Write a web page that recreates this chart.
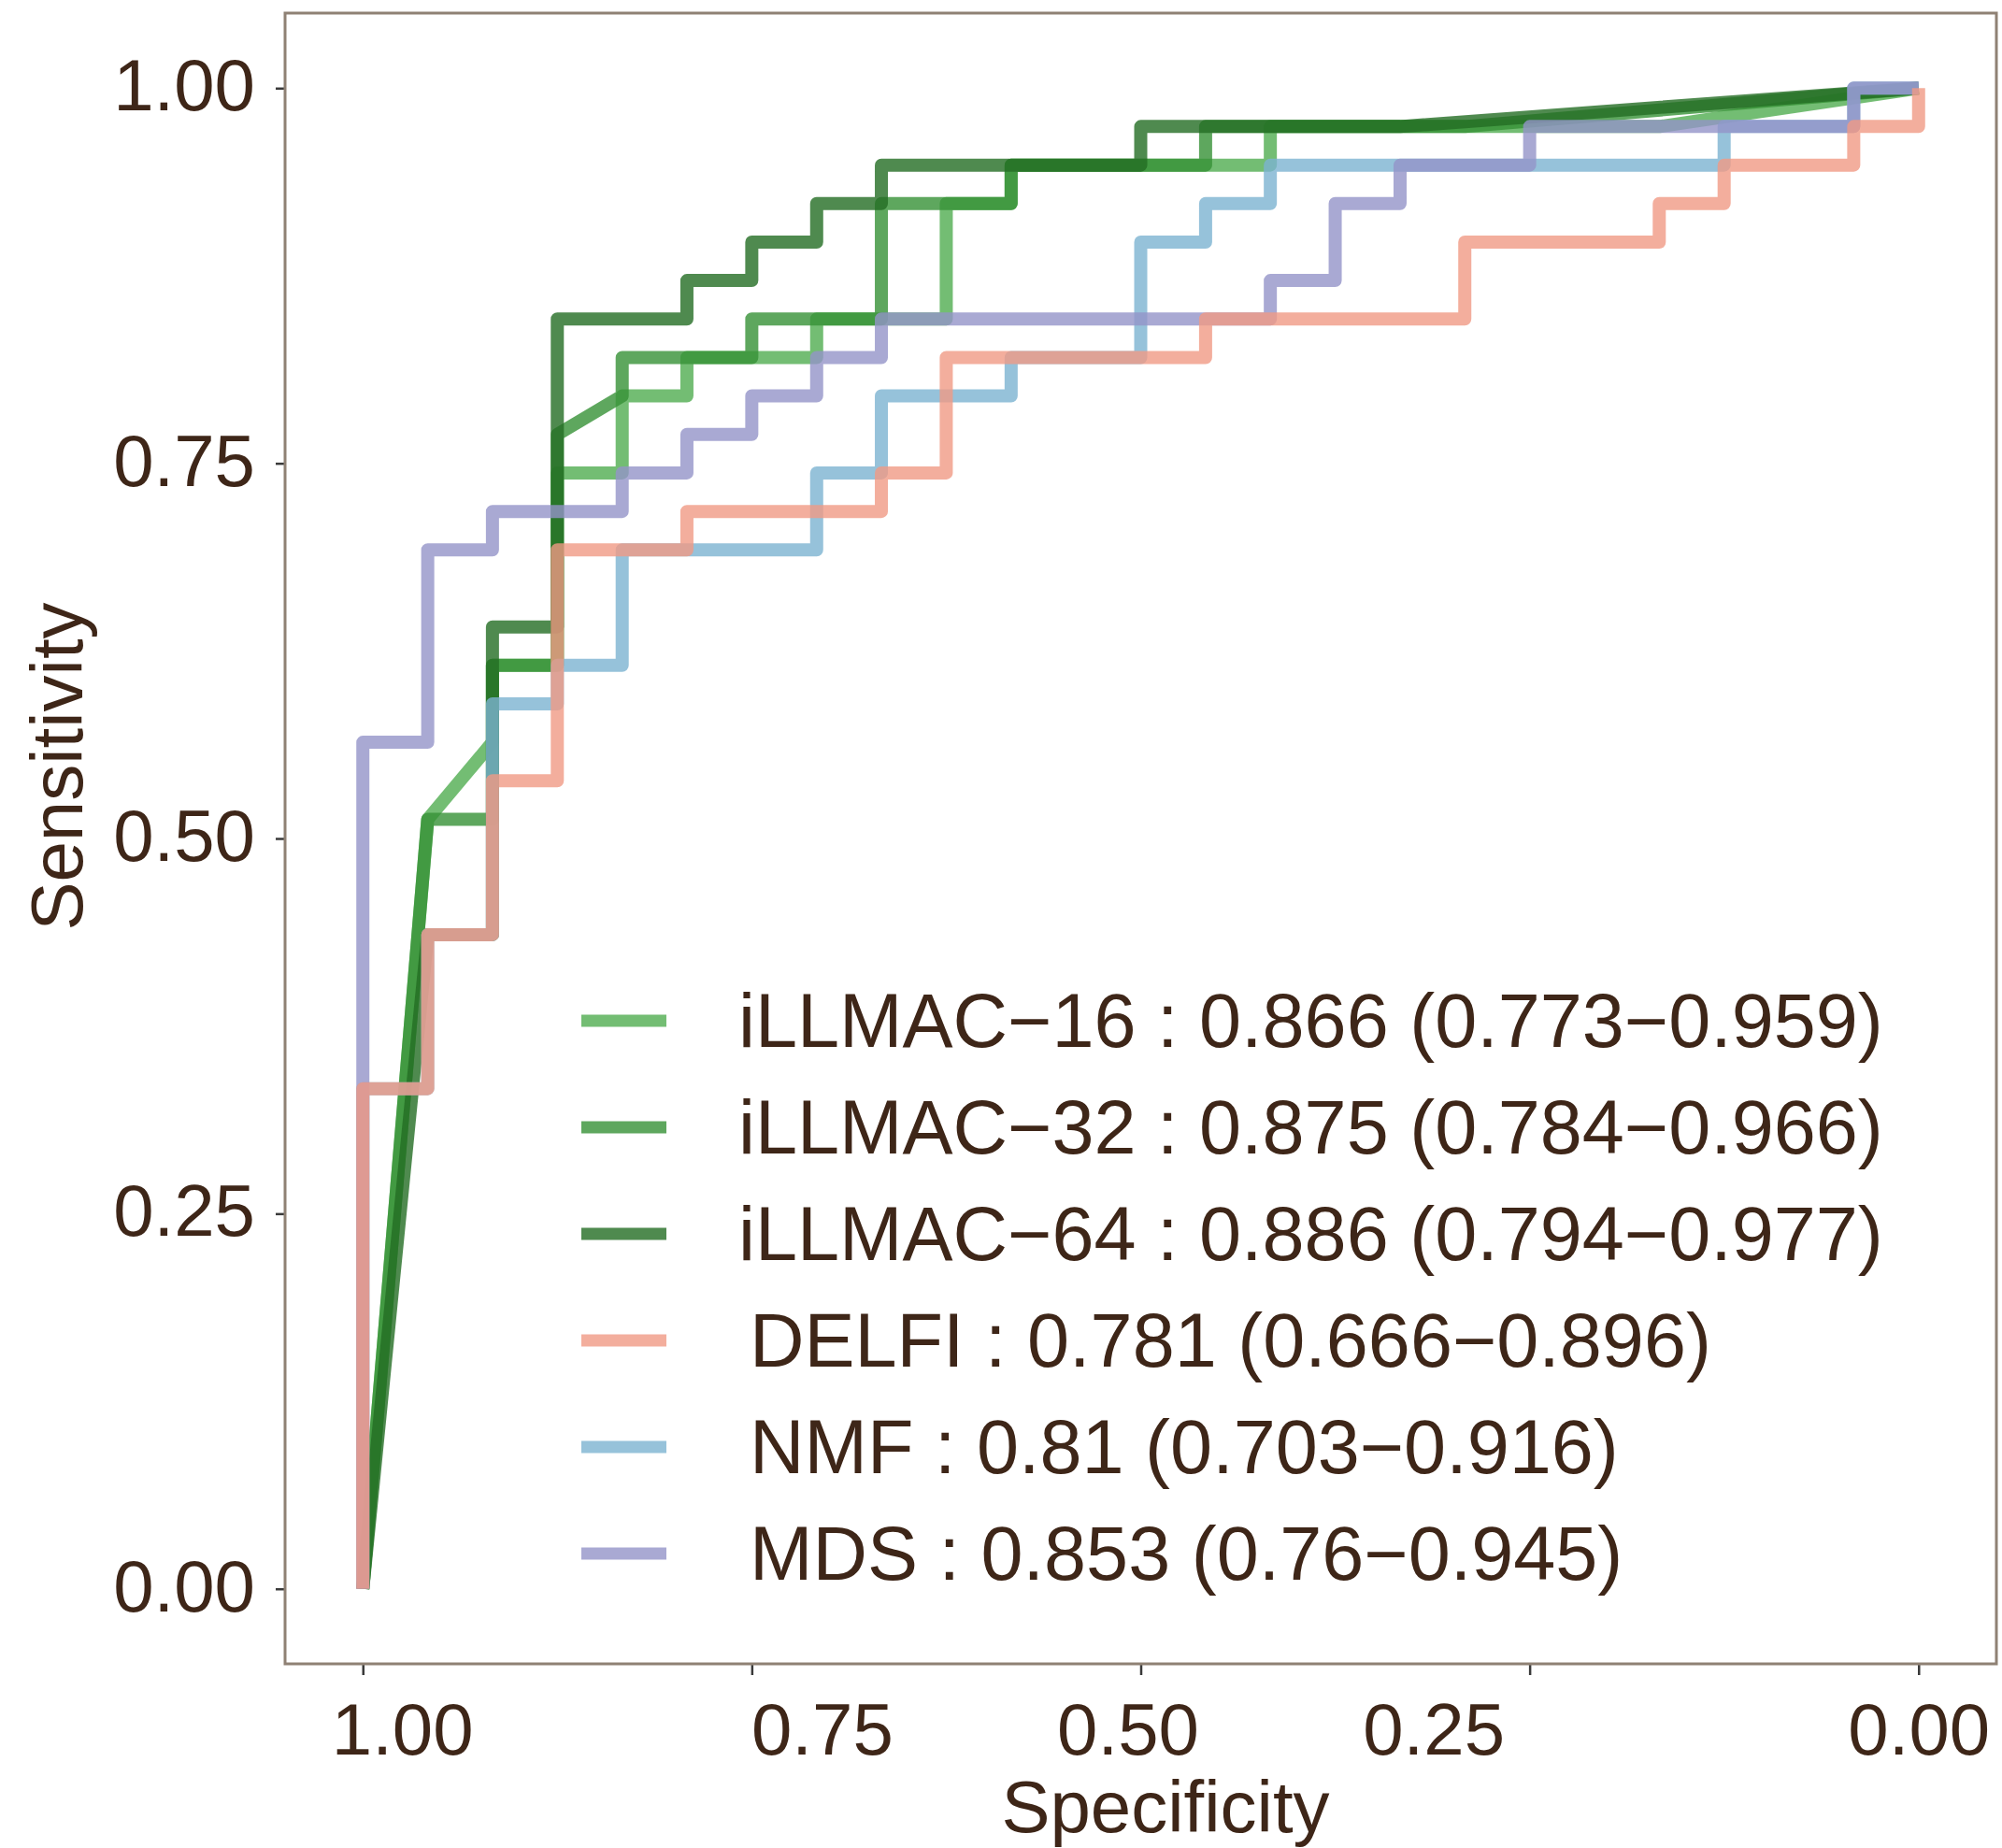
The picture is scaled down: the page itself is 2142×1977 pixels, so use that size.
<!DOCTYPE html>
<html>
<head>
<meta charset="utf-8">
<script src="https://cdn.jsdelivr.net/npm/d3@7"></script>
<style>
  html, body { margin: 0; padding: 0; background: #fff; }
  svg { display: block; font-family: 'Liberation Sans', Arial, Helvetica, sans-serif; }
</style>
</head>
<body>
<div class="container"></div>
<script>
// ROC curves as [specificity, sensitivity] vertices
const rocIL16 = [
  [1, 0], [0.9583, 0.5128], [0.9167, 0.5641], [0.9167, 0.6154], [0.875, 0.6154],
  [0.875, 0.7436], [0.8333, 0.7436], [0.8333, 0.7949], [0.7917, 0.7949], [0.7917, 0.8205],
  [0.7083, 0.8205], [0.7083, 0.8462], [0.625, 0.8462], [0.625, 0.9231], [0.5833, 0.9231],
  [0.5833, 0.9487], [0.4167, 0.9487], [0.4167, 0.9744], [0.1667, 0.9744], [0, 1]
]
const rocIL32 = [
  [1, 0], [0.9583, 0.5128], [0.9167, 0.5128], [0.9167, 0.6154], [0.875, 0.6154],
  [0.875, 0.7692], [0.8333, 0.7949], [0.8333, 0.8205], [0.75, 0.8205], [0.75, 0.8462],
  [0.6667, 0.8462], [0.6667, 0.9231], [0.5833, 0.9231], [0.5833, 0.9487], [0.4583, 0.9487],
  [0.4583, 0.9744], [0.2917, 0.9744], [0, 1]
]
const rocIL64 = [
  [1, 0], [0.9583, 0.4359], [0.9167, 0.4359], [0.9167, 0.641], [0.875, 0.641],
  [0.875, 0.8462], [0.7917, 0.8462], [0.7917, 0.8718], [0.75, 0.8718], [0.75, 0.8974],
  [0.7083, 0.8974], [0.7083, 0.9231], [0.6667, 0.9231], [0.6667, 0.9487], [0.5, 0.9487],
  [0.5, 0.9744], [0.3333, 0.9744], [0, 1]
]
const rocDELFI = [
  [1, 0], [1, 0.3333], [0.9583, 0.3333], [0.9583, 0.4359], [0.9167, 0.4359],
  [0.9167, 0.5385], [0.875, 0.5385], [0.875, 0.6923], [0.7917, 0.6923], [0.7917, 0.7179],
  [0.6667, 0.7179], [0.6667, 0.7436], [0.625, 0.7436], [0.625, 0.8205], [0.4583, 0.8205],
  [0.4583, 0.8462], [0.2917, 0.8462], [0.2917, 0.8974], [0.1667, 0.8974], [0.1667, 0.9231],
  [0.125, 0.9231], [0.125, 0.9487], [0.0417, 0.9487], [0.0417, 0.9744], [0, 0.9744], [0, 1]
]
const rocNMF = [
  [1, 0], [1, 0.3333], [0.9583, 0.3333], [0.9583, 0.4359], [0.9167, 0.4359],
  [0.9167, 0.5897], [0.875, 0.5897], [0.875, 0.6154], [0.8333, 0.6154], [0.8333, 0.6923],
  [0.7083, 0.6923], [0.7083, 0.7436], [0.6667, 0.7436], [0.6667, 0.7949], [0.5833, 0.7949],
  [0.5833, 0.8205], [0.5, 0.8205], [0.5, 0.8974], [0.4583, 0.8974], [0.4583, 0.9231],
  [0.4167, 0.9231], [0.4167, 0.9487], [0.125, 0.9487], [0.125, 0.9744], [0.0417, 0.9744],
  [0.0417, 1], [0, 1]
]
const rocMDS = [
  [1, 0], [1, 0.5641], [0.9583, 0.5641], [0.9583, 0.6923], [0.9167, 0.6923],
  [0.9167, 0.7179], [0.8333, 0.7179], [0.8333, 0.7436], [0.7917, 0.7436], [0.7917, 0.7692],
  [0.75, 0.7692], [0.75, 0.7949], [0.7083, 0.7949], [0.7083, 0.8205], [0.6667, 0.8205],
  [0.6667, 0.8462], [0.4167, 0.8462], [0.4167, 0.8718], [0.375, 0.8718], [0.375, 0.9231],
  [0.3333, 0.9231], [0.3333, 0.9487], [0.25, 0.9487], [0.25, 0.9744], [0.0417, 0.9744],
  [0.0417, 1], [0, 1]
]

const seriesNames = ['iLLMAC\u221216', 'iLLMAC\u221232', 'iLLMAC\u221264', 'DELFI', 'NMF', 'MDS']
const aucLabels = [
  '0.866 (0.773\u22120.959)',
  '0.875 (0.784\u22120.966)',
  '0.886 (0.794\u22120.977)',
  '0.781 (0.666\u22120.896)',
  '0.81 (0.703\u22120.916)',
  '0.853 (0.76\u22120.945)'
]
const seriesCurves = [rocIL16, rocIL32, rocIL64, rocDELFI, rocNMF, rocMDS]
const axisTicks = [0, 0.25, 0.5, 0.75, 1]

const colors = ['#50ac50', '#369136', '#236d23', '#f09a84', '#7cb3d1', '#9393c8']
// greens first, then NMF, MDS and DELFI on top
const drawOrder = [0, 1, 2, 4, 5, 3]
// the x tick labels sit off their ticks in the original
const xLabelNudge = { 0: 0, 0.25: -103, 0.5: -14, 0.75: 75, 1: 42 }
// the last three legend labels start a little further right
const labelIndent = [0, 0, 0, 12, 12, 12]

const W = 2142
const H = 1977
const panel = { left: 305, right: 2136, top: 14, bottom: 1780 }
const textColor = '#3e2618'

const svg = d3
  .select('.container')
  .append('svg')
  .attr('width', W)
  .attr('height', H)

svg.append('rect').attr('width', W).attr('height', H).attr('fill', '#fff')

const x = d3
  .scaleLinear()
  .domain([1.05, -0.05])
  .range([panel.left, panel.right])
const y = d3
  .scaleLinear()
  .domain([-0.05, 1.05])
  .range([panel.bottom, panel.top])

const line = d3
  .line()
  .x((d) => x(d[0]))
  .y((d) => y(d[1]))

const curves = svg.append('g').attr('class', 'curves')
drawOrder.forEach((i) => {
  curves
    .append('path')
    .datum(seriesCurves[i])
    .attr('d', line)
    .attr('fill', 'none')
    .attr('stroke', colors[i])
    .attr('stroke-opacity', 0.8)
    .attr('stroke-width', 14)
    .attr('stroke-linejoin', 'round')
    .attr('stroke-linecap', 'butt')
})

// axes
const xAxis = svg
  .append('g')
  .attr('transform', `translate(0,${panel.bottom})`)
  .call(
    d3
      .axisBottom(x)
      .tickValues(axisTicks)
      .tickFormat(d3.format('.2f'))
      .tickSize(12)
      .tickPadding(30)
  )
const yAxis = svg
  .append('g')
  .attr('transform', `translate(${panel.left},0)`)
  .call(
    d3
      .axisLeft(y)
      .tickValues(axisTicks)
      .tickFormat(d3.format('.2f'))
      .tickSize(10)
      .tickPadding(22)
  )

;[xAxis, yAxis].forEach((a) => {
  a.select('.domain').remove()
  a.selectAll('.tick line').attr('stroke', '#3a3a3a').attr('stroke-width', 2.5)
  a.selectAll('.tick text')
    .attr('font-size', 78)
    .attr('font-family', "'Liberation Sans', Arial, sans-serif")
    .attr('fill', textColor)
})
xAxis.selectAll('.tick text').attr('x', (d) => xLabelNudge[d])
yAxis.selectAll('.tick text').attr('dy', '0.3em')

// panel border
svg
  .append('rect')
  .attr('x', panel.left)
  .attr('y', panel.top)
  .attr('width', panel.right - panel.left)
  .attr('height', panel.bottom - panel.top)
  .attr('fill', 'none')
  .attr('stroke', '#8f8174')
  .attr('stroke-width', 3)

// axis titles
svg
  .append('text')
  .attr('x', 1247)
  .attr('y', 1960)
  .attr('text-anchor', 'middle')
  .attr('font-size', 78)
  .attr('fill', textColor)
  .text('Specificity')

svg
  .append('text')
  .attr('transform', 'translate(88,820) rotate(-90)')
  .attr('text-anchor', 'middle')
  .attr('font-size', 78)
  .attr('fill', textColor)
  .text('Sensitivity')

// legend
const legend = svg.append('g').attr('transform', 'translate(622,1092)')
const rowStep = 114

const rows = legend
  .selectAll('g')
  .data(seriesNames)
  .enter()
  .append('g')
  .attr('transform', (d, i) => `translate(0,${i * rowStep})`)

rows
  .append('line')
  .attr('x1', 0)
  .attr('x2', 91)
  .attr('stroke', (d, i) => colors[i])
  .attr('stroke-opacity', 0.8)
  .attr('stroke-width', 13)

rows
  .append('text')
  .attr('x', (d, i) => 168 + labelIndent[i])
  .attr('dy', '0.35em')
  .attr('font-size', 81)
  .attr('fill', textColor)
  .text((d, i) => `${d} : ${aucLabels[i]}`)
</script>
</body>
</html>
